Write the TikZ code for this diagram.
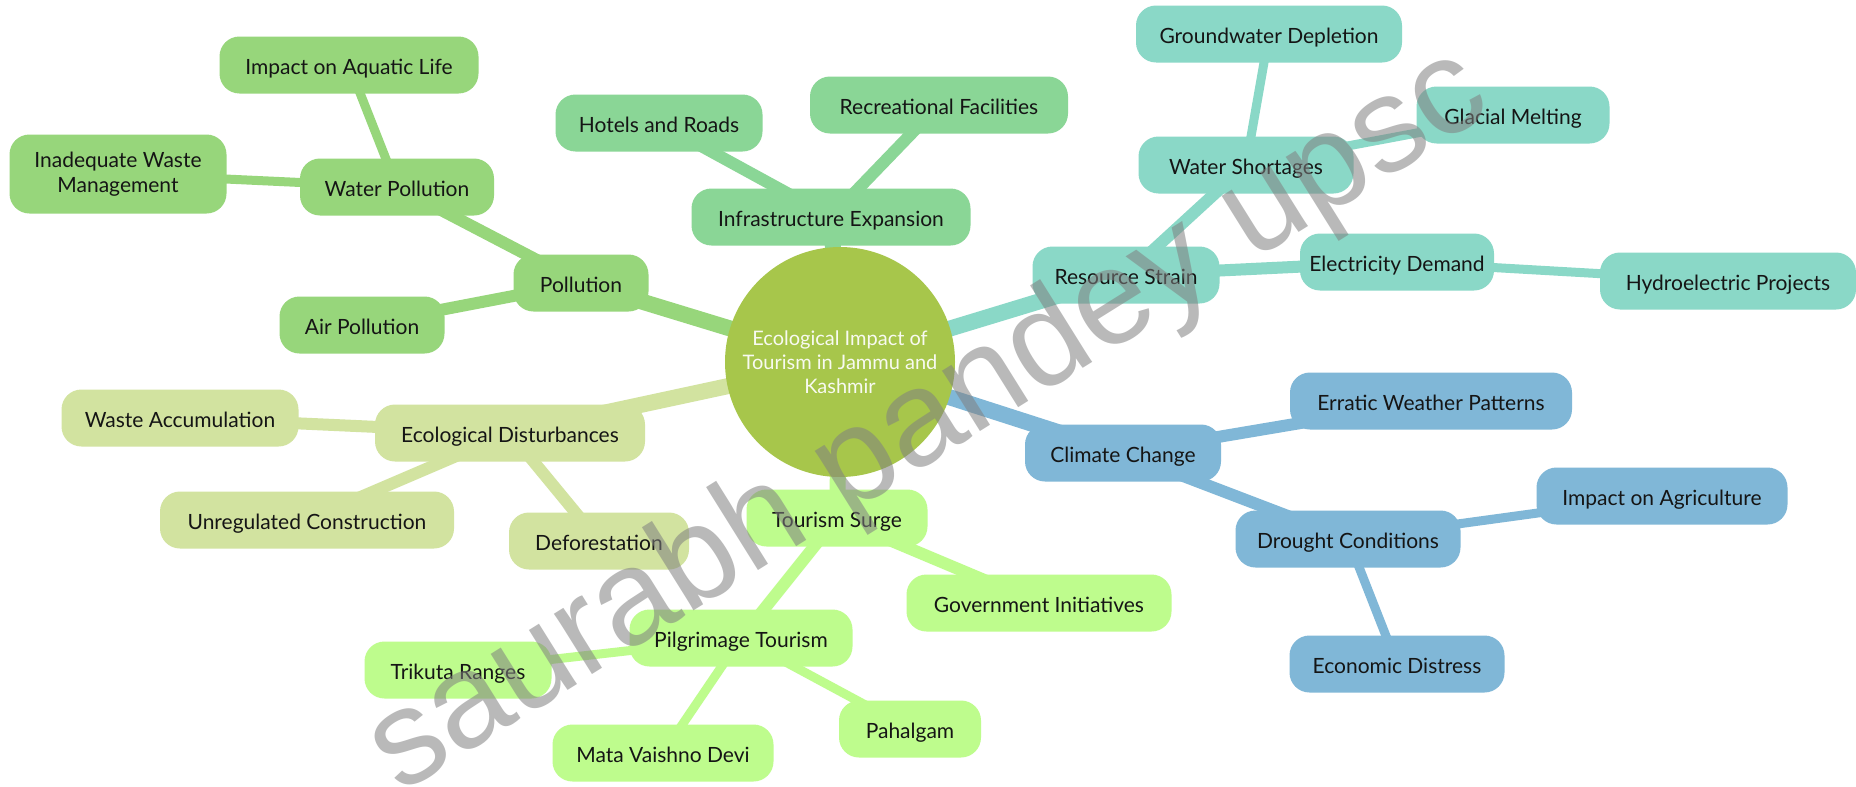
\documentclass[tikz,border=0pt]{standalone}
\usepackage{fontspec}
\setmainfont{Lato}
\newfontfamily\wmfont{Liberation Sans}
\pgfdeclarelayer{bg}
\pgfdeclarelayer{background}
\pgfsetlayers{bg,background,main}
\definecolor{cpol}{HTML}{97D67B}
\definecolor{cinf}{HTML}{8AD696}
\definecolor{cres}{HTML}{8AD8C7}
\definecolor{ccli}{HTML}{80B7D7}
\definecolor{ceco}{HTML}{D2E3A0}
\definecolor{ctou}{HTML}{BEFC8D}
\definecolor{ccen}{HTML}{A7C64B}
\definecolor{ctxt}{HTML}{151515}
\definecolor{cwm}{HTML}{808080}
\begin{document}
\begin{tikzpicture}[x=1pt,y=-1pt,
  box/.style={rounded corners=20pt, minimum height=57pt, inner sep=0pt,
    text height=22pt, text depth=4pt,
    font=\fontsize{21}{25}\selectfont, text=ctxt, align=center},
  pol/.style={box, fill=cpol}, inf/.style={box, fill=cinf}, res/.style={box, fill=cres},
  cli/.style={box, fill=ccli}, eco/.style={box, fill=ceco}, tou/.style={box, fill=ctou},
  eone/.style={line width=16pt}, etwo/.style={line width=12pt}, ethree/.style={line width=9pt}]
\useasboundingbox (0,0) rectangle (1856,787);
\begin{pgfonlayer}{bg}
\fill[white] (0,0) rectangle (1856,787);
\end{pgfonlayer}

\node[circle, fill=ccen, minimum size=230pt, inner sep=0pt, align=center,
  text=white!92!ccen, font=\fontsize{20}{24}\selectfont] (root) at (840,362)
  {Ecological Impact of\\Tourism in Jammu and\\Kashmir};

% Pollution
\node[pol, minimum width=135pt] (pollution) at (581,283) {Pollution};
\node[pol, minimum width=194pt] (waterpol) at (397,187) {Water Pollution};
\node[pol, minimum width=165pt] (airpol) at (362,325) {Air Pollution};
\node[pol, minimum width=259pt] (aquatic) at (349,65) {Impact on Aquatic Life};
\node[pol, minimum width=217pt, minimum height=79pt, text height={}, text depth={}] (inadequate) at (118,174) {Inadequate Waste\\Management};
% Infrastructure
\node[inf, minimum width=279pt] (infra) at (831,217) {Infrastructure Expansion};
\node[inf, minimum width=207pt] (hotels) at (659,123) {Hotels and Roads};
\node[inf, minimum width=258pt] (recre) at (939,105) {Recreational Facilities};
% Resource
\node[res, minimum width=187pt] (resource) at (1126,275) {Resource Strain};
\node[res, minimum width=215pt] (watershort) at (1246,165) {Water Shortages};
\node[res, minimum width=266pt] (ground) at (1269,34) {Groundwater Depletion};
\node[res, minimum width=193pt] (glacial) at (1513,115) {Glacial Melting};
\node[res, minimum width=194pt] (elec) at (1397,262) {Electricity Demand};
\node[res, minimum width=256pt] (hydro) at (1728,281) {Hydroelectric Projects};
% Climate
\node[cli, minimum width=196pt] (climate) at (1123,453) {Climate Change};
\node[cli, minimum width=282pt] (erratic) at (1431,401) {Erratic Weather Patterns};
\node[cli, minimum width=225pt] (drought) at (1348,539) {Drought Conditions};
\node[cli, minimum width=251pt] (agri) at (1662,496) {Impact on Agriculture};
\node[cli, minimum width=215pt] (econ) at (1397,664) {Economic Distress};
% Ecological
\node[eco, minimum width=270pt] (ecodist) at (510,433) {Ecological Disturbances};
\node[eco, minimum width=237pt] (wasteacc) at (180,418) {Waste Accumulation};
\node[eco, minimum width=294pt] (unreg) at (307,520) {Unregulated Construction};
\node[eco, minimum width=180pt] (defor) at (599,541) {Deforestation};
% Tourism
\node[tou, minimum width=181pt] (tsurge) at (837,518) {Tourism Surge};
\node[tou, minimum width=265pt] (govt) at (1039,603) {Government Initiatives};
\node[tou, minimum width=223pt] (pilg) at (741,638) {Pilgrimage Tourism};
\node[tou, minimum width=187pt] (trikuta) at (458,670) {Trikuta Ranges};
\node[tou, minimum width=221pt] (mata) at (663,753) {Mata Vaishno Devi};
\node[tou, minimum width=142pt] (pahal) at (910,729) {Pahalgam};

\begin{pgfonlayer}{background}
\draw[eone, cpol] (root.center) -- (pollution.center);
\draw[eone, cinf] (root.center) -- (infra.center);
\draw[eone, cres] (root.center) -- (resource.center);
\draw[eone, ccli] (root.center) -- (climate.center);
\draw[eone, ceco] (root.center) -- (ecodist.center);
\draw[eone, ctou] (root.center) -- (tsurge.center);
\draw[etwo, cpol] (pollution.center) -- (waterpol.center);
\draw[etwo, cpol] (pollution.center) -- (airpol.center);
\draw[etwo, cinf] (infra.center) -- (hotels.center);
\draw[etwo, cinf] (infra.center) -- (recre.center);
\draw[etwo, cres] (resource.center) -- (watershort.center);
\draw[etwo, cres] (resource.center) -- (elec.center);
\draw[etwo, ccli] (climate.center) -- (erratic.center);
\draw[etwo, ccli] (climate.center) -- (drought.center);
\draw[etwo, ceco] (ecodist.center) -- (wasteacc.center);
\draw[etwo, ceco] (ecodist.center) -- (unreg.center);
\draw[etwo, ceco] (ecodist.center) -- (defor.center);
\draw[etwo, ctou] (tsurge.center) -- (govt.center);
\draw[etwo, ctou] (tsurge.center) -- (pilg.center);
\draw[ethree, cpol] (waterpol.center) -- (aquatic.center);
\draw[ethree, cpol] (waterpol.center) -- (inadequate.center);
\draw[ethree, cres] (watershort.center) -- (ground.center);
\draw[ethree, cres] (watershort.center) -- (glacial.center);
\draw[ethree, cres] (elec.center) -- (hydro.center);
\draw[ethree, ccli] (drought.center) -- (agri.center);
\draw[ethree, ccli] (drought.center) -- (econ.center);
\draw[ethree, ctou] (pilg.center) -- (trikuta.center);
\draw[ethree, ctou] (pilg.center) -- (mata.center);
\draw[ethree, ctou] (pilg.center) -- (pahal.center);
\end{pgfonlayer}

\node[rotate=32, text=cwm, text opacity=0.55, inner sep=0pt,
  font=\wmfont\fontsize{135}{135}\selectfont] (wm) at (929,423) {saurabh pandey upsc};
\end{tikzpicture}
\end{document}
